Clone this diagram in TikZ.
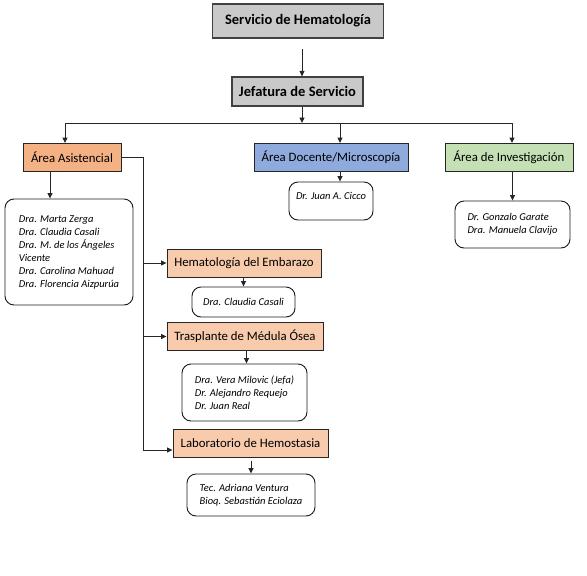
\documentclass[tikz,border=0pt]{standalone}
\usepackage{fontspec}
\setmainfont{Carlito}
\usetikzlibrary{arrows.meta,positioning}
\definecolor{hgris}{HTML}{C9C9C9}
\definecolor{hnaranja}{HTML}{F4B183}
\definecolor{hsalmon}{HTML}{F8CBAD}
\definecolor{hazul}{HTML}{8FAADC}
\definecolor{hverde}{HTML}{C5E0B4}

\begin{document}
\begin{tikzpicture}[x=1pt, y=-1pt,
	caja/.style={draw=black!85, line width=0.9pt, minimum height=28pt, inner sep=2pt, font=\fontsize{12.8}{14}\selectfont},
	jefe/.style={caja, fill=hgris, line width=1.2pt, draw=black!75, font=\fontsize{14.5}{16}\selectfont\bfseries},
	gente/.style={draw=black!90, line width=0.9pt, rounded corners=9pt, align=left, inner sep=2pt, font=\fontsize{10.5}{13}\selectfont\itshape},
	flecha/.style={-{Triangle[length=5.5pt,width=5pt]}, line width=0.9pt, draw=black!85}]
	\useasboundingbox (0,0) rectangle (587,576);
	
	\node[jefe, minimum width=171pt, minimum height=34pt] (serv) at (298,21) {Servicio de Hematología};
	\node[jefe, minimum width=131pt, minimum height=29pt] (jef) at (297.5,91.5) {Jefatura de Servicio};
	\coordinate (bus) at (302,123);
	
	\node[caja, fill=hnaranja, minimum width=98pt] (asis) at (72,157.5) {Área Asistencial};
	\node[caja, fill=hazul, minimum width=154pt] (doc) at (331,157.5) {Área Docente/Microscopía};
	\node[caja, fill=hverde, minimum width=128pt] (inv) at (509,157.5) {Área de Investigación};
	
	\node[gente, minimum width=128pt, minimum height=106pt] (asisp) at (69,252)
		{Dra. Marta Zerga\\ Dra. Claudia Casali\\ Dra. M. de los Ángeles\\ Vicente\\ Dra. Carolina Mahuad\\ Dra. Florencia Aizpurúa};
	\node[gente, minimum width=84pt, minimum height=38pt, text depth=10pt] (docp) at (331,201) {Dr. Juan A. Cicco};
	\node[gente, minimum width=115pt, minimum height=47pt] (invp) at (512.5,224.5) {Dr. Gonzalo Garate\\ Dra. Manuela Clavijo};
	
	\node[caja, fill=hsalmon, minimum width=154pt] (emb) at (244,263) {Hematología del Embarazo};
	\node[gente, minimum width=103pt, minimum height=30pt] (embp) at (243.5,302) {Dra. Claudia Casali};
	\node[caja, fill=hsalmon, minimum width=156pt] (tras) at (245,336.5) {Trasplante de Médula Ósea};
	\node[gente, minimum width=125pt, minimum height=57pt] (trasp) at (244.5,392.5)
		{Dra. Vera Milovic (Jefa)\\ Dr. Alejandro Requejo\\ Dr. Juan Real};
	\node[caja, fill=hsalmon, minimum width=155pt] (lab) at (250.5,443) {Laboratorio de Hemostasia};
	\node[gente, minimum width=128pt, minimum height=42pt] (labp) at (251,495)
		{Tec. Adriana Ventura\\ Bioq. Sebastián Eciolaza};
	
	\coordinate (a0) at ([xshift=-7pt]asis.north);
	\coordinate (a1) at ([xshift=-22pt]asis.south);
	\coordinate (d1) at ([xshift=9pt]doc.north);
	\coordinate (i0) at ([xshift=3pt]inv.north);
	\coordinate (tronco) at (143,157.5);
	\coordinate (l0) at ([yshift=-7pt]lab.west);
	
	\draw[flecha, shorten <=10pt] (serv.south -| bus) -- (jef.north -| bus);
	\draw[flecha] (jef.south -| bus) -- (bus);
	\draw[flecha] (bus) -| (a0);
	\draw[flecha] (bus) -| (i0);
	\draw[flecha] (bus -| d1) -- (d1);
	
	\draw[flecha] (a1) -- (a1 |- asisp.north);
	\draw[flecha] (d1 |- doc.south) -- (d1 |- docp.north);
	\draw[flecha] (invp.north |- inv.south) -- (invp.north);
	
	\draw[flecha] (asis.east) -| (tronco |- l0) -- (l0);
	\draw[flecha] (tronco |- emb.west) -- (emb.west);
	\draw[flecha] (tronco |- tras.west) -- (tras.west);
	
	\draw[flecha] (embp.north |- emb.south) -- (embp.north);
	\draw[flecha] ([xshift=2pt]trasp.north |- tras.south) -- ([xshift=2pt]trasp.north);
	\draw[flecha, shorten <=4pt] (labp.north |- lab.south) -- (labp.north);
\end{tikzpicture}
\end{document}
